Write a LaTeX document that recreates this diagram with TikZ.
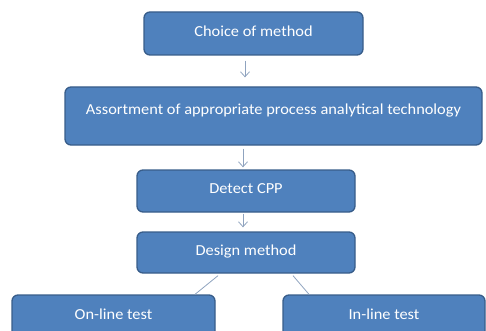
\documentclass[tikz,border=0pt]{standalone}
\usepackage{fontspec}
\setmainfont{Carlito}[FakeStretch=1.07]
\usetikzlibrary{arrows.meta,calc}
\definecolor{boxfill}{HTML}{4F81BD}
\definecolor{boxline}{HTML}{385D8A}
\definecolor{conn}{HTML}{8FA3BF}
\tikzset{
  pbox/.style={draw=boxline, line width=1.3pt, fill=boxfill, rounded corners=6pt,
    text=white, font=\fontsize{15.3}{17}\selectfont, inner sep=0pt},
  arr/.style={draw=conn, line width=0.8pt, -{Straight Barb[length=5pt,width=9pt]}},
  link/.style={draw=conn, line width=0.8pt}
}
\begin{document}
\begin{tikzpicture}[x=1pt,y=-1pt]
\useasboundingbox (0,0) rectangle (486,331);
\clip (0,0) rectangle (486,331);
\node[pbox, minimum width=219pt, minimum height=43pt, text depth=4pt] (b1) at (253.5,33.5) {Choice of method};
\node[pbox, minimum width=417pt, minimum height=58pt, text depth=14pt] (b2) at (273.5,116) {Assortment of appropriate process analytical technology};
\node[pbox, minimum width=218pt, minimum height=42pt, text depth=4pt] (b3) at (246,191) {Detect CPP};
\node[pbox, minimum width=218pt, minimum height=41pt, text depth=4pt] (b4) at (246,252.5) {Design method};
\node[pbox, minimum width=203pt, minimum height=42pt, text depth=4pt] (b5) at (113.5,316) {On-line test};
\node[pbox, minimum width=202pt, minimum height=42pt, text depth=4pt] (b6) at (384,316) {In-line test};
\draw[arr] ([xshift=-8.5pt,yshift=-5pt]b1.south) -- ([xshift=-28.5pt,yshift=9pt]b2.north);
\draw[arr] ([xshift=-30.5pt,yshift=-3pt]b2.south) -- ([xshift=-3pt,yshift=2pt]b3.north);
\draw[arr] ([xshift=-3pt,yshift=-1pt]b3.south) -- ([xshift=-3pt,yshift=4pt]b4.north);
\draw[link] ([xshift=-28pt,yshift=-2pt]b4.south) -- ([xshift=81.5pt]b5.north);
\draw[link] ([xshift=47pt,yshift=-2pt]b4.south) -- ([xshift=-75pt]b6.north);
\end{tikzpicture}
\end{document}
